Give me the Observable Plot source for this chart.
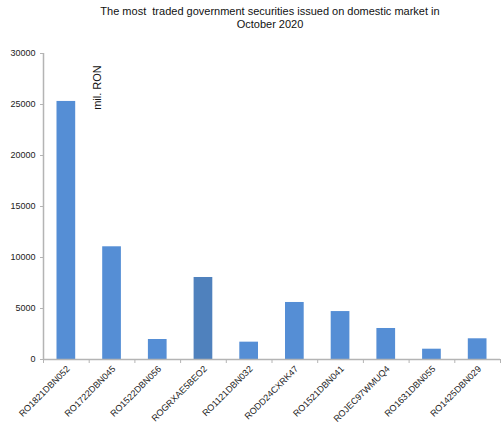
<!DOCTYPE html>
<html>
<head>
<meta charset="utf-8">
<script src="https://cdn.jsdelivr.net/npm/d3@7"></script>
<script src="https://cdn.jsdelivr.net/npm/@observablehq/plot@0.6"></script>
<style>
  html, body { margin: 0; padding: 0; background: #fff; }
  svg { font-family: "Liberation Sans", Arial, sans-serif; }
</style>
</head>
<body>
<div id="chart"></div>
<script>
// Most traded government securities, October 2020 (mil. RON)
const securities = ["RO1821DBN052", "RO1722DBN045", "RO1522DBN056", "ROGRXAE5BEO2", "RO1121DBN032",
                    "RODD24CXRK47", "RO1521DBN041", "ROJEC97WMUQ4", "RO1631DBN055", "RO1425DBN029"];
const volumes = [25300, 11050, 1960, 8040, 1700, 5590, 4700, 3040, 1010, 2030];
const yTicks = [0, 5000, 10000, 15000, 20000, 25000, 30000];
const titleText = "The most\u00a0 traded government securities issued on domestic market in\nOctober 2020";
const unitText = "mil. RON";

const rows = securities.map((name, i) => ({name, i, value: volumes[i]}));
const axisColor = "#b4b4b4";

const chart = Plot.plot({
  width: 501,
  height: 425,
  marginTop: 53,
  marginLeft: 43,
  marginRight: 1,
  marginBottom: 66,
  style: {fontFamily: "Liberation Sans, Arial, sans-serif", background: "#fff"},
  x: {type: "linear", domain: [0, securities.length]},
  y: {domain: [0, 30000]},
  marks: [
    Plot.rectY(rows, {
      x1: "i", x2: d => d.i + 1, y: "value",
      insetLeft: 13.5, insetRight: 13.5,
      fill: d => d.name === "ROGRXAE5BEO2" ? "#4f81bd" : "#558ed5"
    }),
    // y axis: line, ticks and labels
    Plot.axisY({ticks: yTicks, tickSize: 3, tickPadding: 5, tickFormat: d => String(d),
                stroke: axisColor, fill: "#222", fontSize: 9, label: null}),
    Plot.ruleX([0], {stroke: axisColor, strokeWidth: 1.5}),
    // x axis: baseline and category boundary ticks
    Plot.ruleY([0], {stroke: axisColor, strokeWidth: 1.5}),
    Plot.axisX({ticks: d3.range(securities.length + 1), tickSize: 4, tickFormat: () => "",
                stroke: axisColor, label: null}),
    // category labels, rotated under each bar
    Plot.text(rows, {x: d => d.i + 0.5, y: () => 0, text: "name", rotate: -45,
                     textAnchor: "end", dx: 2, dy: 8, fontSize: 9, fill: "#222"}),
    Plot.text([unitText], {frameAnchor: "top-left", dx: 50, dy: 34, rotate: -90,
                           fontSize: 11, fill: "#111", textAnchor: "middle"}),
    Plot.text([titleText], {frameAnchor: "top", dx: -2, dy: -47, lineAnchor: "top",
                            lineHeight: 1.15, fontSize: 11, fill: "#111"})
  ]
});
document.getElementById("chart").append(chart);
</script>
</body>
</html>
